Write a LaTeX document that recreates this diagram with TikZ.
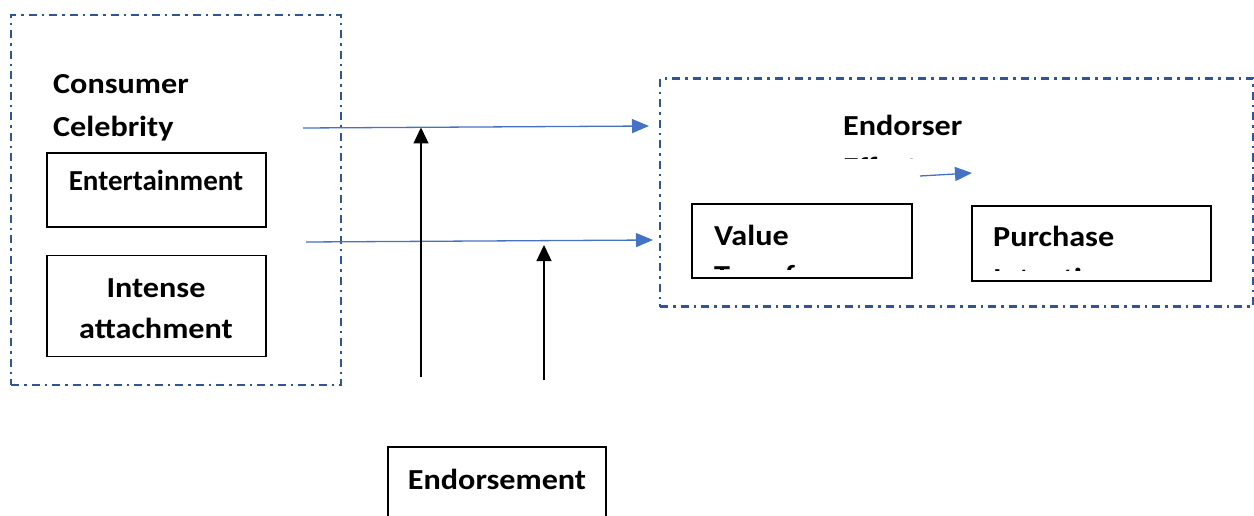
\documentclass[tikz,border=0pt]{standalone}
\usepackage{fontspec}
\setmainfont{Carlito}
\newfontfamily\widefont{Carlito}[FakeStretch=1.11]
\usetikzlibrary{arrows.meta}
\definecolor{dashblue}{HTML}{2F5597}
\definecolor{arrblue}{HTML}{4472C4}
\begin{document}
\begin{tikzpicture}[x=1pt,y=-1pt,
  frame/.style={draw=dashblue,line width=2.6pt,dash pattern=on 8pt off 5pt on 2.5pt off 5pt,inner sep=0},
  box/.style={draw=black,line width=1.5pt,inner sep=0},
  lbl/.style={font=\widefont\fontsize{29}{35}\selectfont\bfseries,inner sep=0},
  lblnarrow/.style={font=\fontsize{29}{35}\selectfont\bfseries,inner sep=0},
  blu/.style={draw=arrblue,line width=1.3pt,-{Triangle[length=17pt,width=14pt]}},
  blk/.style={draw=black,line width=1.3pt,-{Triangle[length=16pt,width=15pt]}}]
\useasboundingbox (0,0) rectangle (1254,516);
% frames
\node[frame,minimum width=330,minimum height=370] (left) at (176,200) {};
\node[frame,minimum width=593,minimum height=228] (right) at (956.5,192.5) {};
% left group
\node[lbl,anchor=base west] (consumer) at (53,94) {Consumer};
\node[lbl,anchor=base west] (celebrity) at (53,137) {Celebrity};
\node[box,minimum width=219,minimum height=74] (ent) at (156.5,190) {};
\node[lblnarrow,anchor=base] (entt) at (156,191) {Entertainment};
\node[box,minimum width=219,minimum height=101] (int) at (156.5,306) {};
\node[lbl,anchor=base] (intt) at (156,297) {Intense};
\node[lbl,anchor=base] (attt) at (156,338) {attachment};
% right group
\node[lbl,anchor=base west] (endorser) at (843,136) {Endorser};
\begin{scope}
  \clip (830,100) rectangle (1000,159);
  \node[lbl,anchor=base west] (effect) at (843,177.5) {Effect};
\end{scope}
\node[box,minimum width=220,minimum height=74] (value) at (802,241) {};
\node[lbl,anchor=base west] (valuet) at (714,245) {Value};
\begin{scope}
  \clip (700,200) rectangle (905,269);
  \node[lbl,anchor=base west] (transfer) at (714,285.5) {Transfer};
\end{scope}
\node[box,minimum width=239,minimum height=75] (purch) at (1091.5,243.5) {};
\node[lbl,anchor=base west] (purcht) at (993,247) {Purchase};
\begin{scope}
  \clip (980,200) rectangle (1205,270);
  \node[lbl,anchor=base west] (intention) at (993,288.5) {Intention};
\end{scope}
% bottom box (open at bottom)
\coordinate (eb1) at (388,520);
\coordinate (eb2) at (388,447);
\coordinate (eb3) at (606,447);
\coordinate (eb4) at (606,520);
\draw[line width=1.5pt] (eb1) -- (eb2) -- (eb3) -- (eb4);
\node[lbl,anchor=base] (endors) at (497,489) {Endorsement};
% blue connectors
\coordinate (a1s) at (303,128);
\coordinate (a1e) at (649,126);
\coordinate (a2s) at (306,242);
\coordinate (a2e) at (653,240);
\coordinate (a3s) at (920,176);
\coordinate (a3e) at (972,173);
\draw[blu] (a1s) -- (a1e);
\draw[blu] (a2s) -- (a2e);
\draw[blu] (a3s) -- (a3e);
% black connectors
\coordinate (b1s) at (421,377);
\coordinate (b1e) at (421,127.5);
\coordinate (b2s) at (544,380);
\coordinate (b2e) at (544,245);
\draw[blk] (b1s) -- (b1e);
\draw[blk] (b2s) -- (b2e);
\end{tikzpicture}
\end{document}
